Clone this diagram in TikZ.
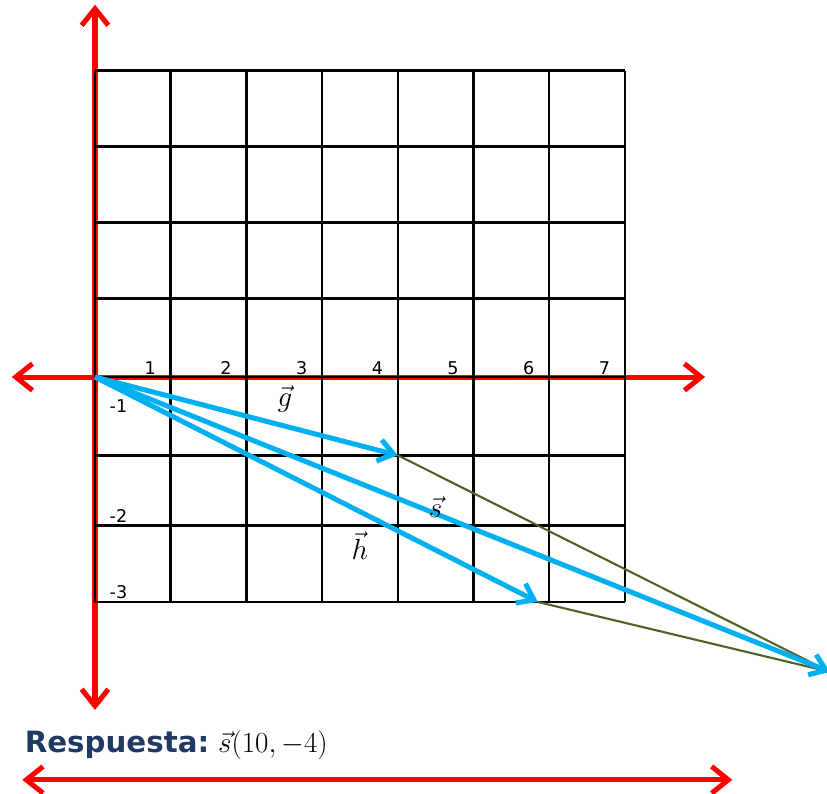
\documentclass[tikz,border=0pt]{standalone}
\usepackage{fontspec}
\setsansfont{DejaVu Sans}
\usetikzlibrary{arrows.meta,positioning}
\definecolor{axisred}{HTML}{FF0000}
\definecolor{vecblue}{HTML}{00B0F0}
\definecolor{guidegreen}{HTML}{4F6228}
\definecolor{answerblue}{HTML}{1F3864}

\begin{document}
\begin{tikzpicture}[x=2.271cm, y=2.28cm,
  axis/.style={draw=axisred, line width=4.3pt, line cap=round,
    {Straight Barb[length=0.5cm,width=0.8cm]}-{Straight Barb[length=0.5cm,width=0.8cm]}},
  gridline/.style={draw=black, line width=2.2pt},
  vec/.style={draw=vecblue, line width=4.3pt, -{Straight Barb[length=0.45cm,width=0.65cm]}},
  guide/.style={draw=guidegreen, line width=1.8pt},
  numlabel/.style={font=\sffamily\fontsize{15}{17}\selectfont, inner sep=0pt},
  veclabel/.style={font=\fontsize{24}{28}\selectfont, inner sep=0pt}]
\useasboundingbox (-1.255,4.961) rectangle (9.670,-5.474);
% axes
\draw[axis] (-1.10,0) -- (8.06,0);
\draw[axis] (0,4.90) -- (0,-4.38);
% grid
\foreach \i in {0,...,7}
  \draw[gridline] (\i,4.03) -- (\i,-2.96);
\foreach \j in {4.03,3.03,2.03,1.03,0,-1.03,-1.95,-2.96}
  \draw[gridline] (0,\j) -- (7,\j);
% tick labels
\foreach \i in {1,...,7}
  \node[numlabel] (x\i) at (\i-0.27,0.12) {\i};
\node[numlabel] (y1) at (0.31,-0.38) {-1};
\node[numlabel] (y2) at (0.31,-1.83) {-2};
\node[numlabel] (y3) at (0.31,-2.83) {-3};
% vectors
\coordinate (O) at (0,0);
\coordinate (G) at (4,-1.03);
\coordinate (H) at (5.85,-2.96);
\coordinate (S) at (9.71,-3.88);
\draw[guide] (G) -- (S);
\draw[guide] (H) -- (S);
\draw[vec] (O) -- (G);
\draw[vec] (O) -- (H);
\draw[vec] (O) -- (S);
\node[veclabel] (glabel) at (2.51,-0.29) {$\vec{g}$};
\node[veclabel] (slabel) at (4.50,-1.71) {$\vec{s}$};
\node[veclabel] (hlabel) at (3.50,-2.22) {$\vec{h}$};
% answer
\node[anchor=west, inner sep=0pt, text=answerblue,
  font=\sffamily\bfseries\fontsize{25}{30}\selectfont] (answer) at (-0.93,-4.84) {Respuesta:};
\node[inner sep=0pt, font=\fontsize{25}{30}\selectfont,
  right=0.25cm of answer] (result) {$\vec{s}(10,-4)$};
\draw[axis] (-0.96,-5.30) -- (8.42,-5.30);
\end{tikzpicture}
\end{document}
